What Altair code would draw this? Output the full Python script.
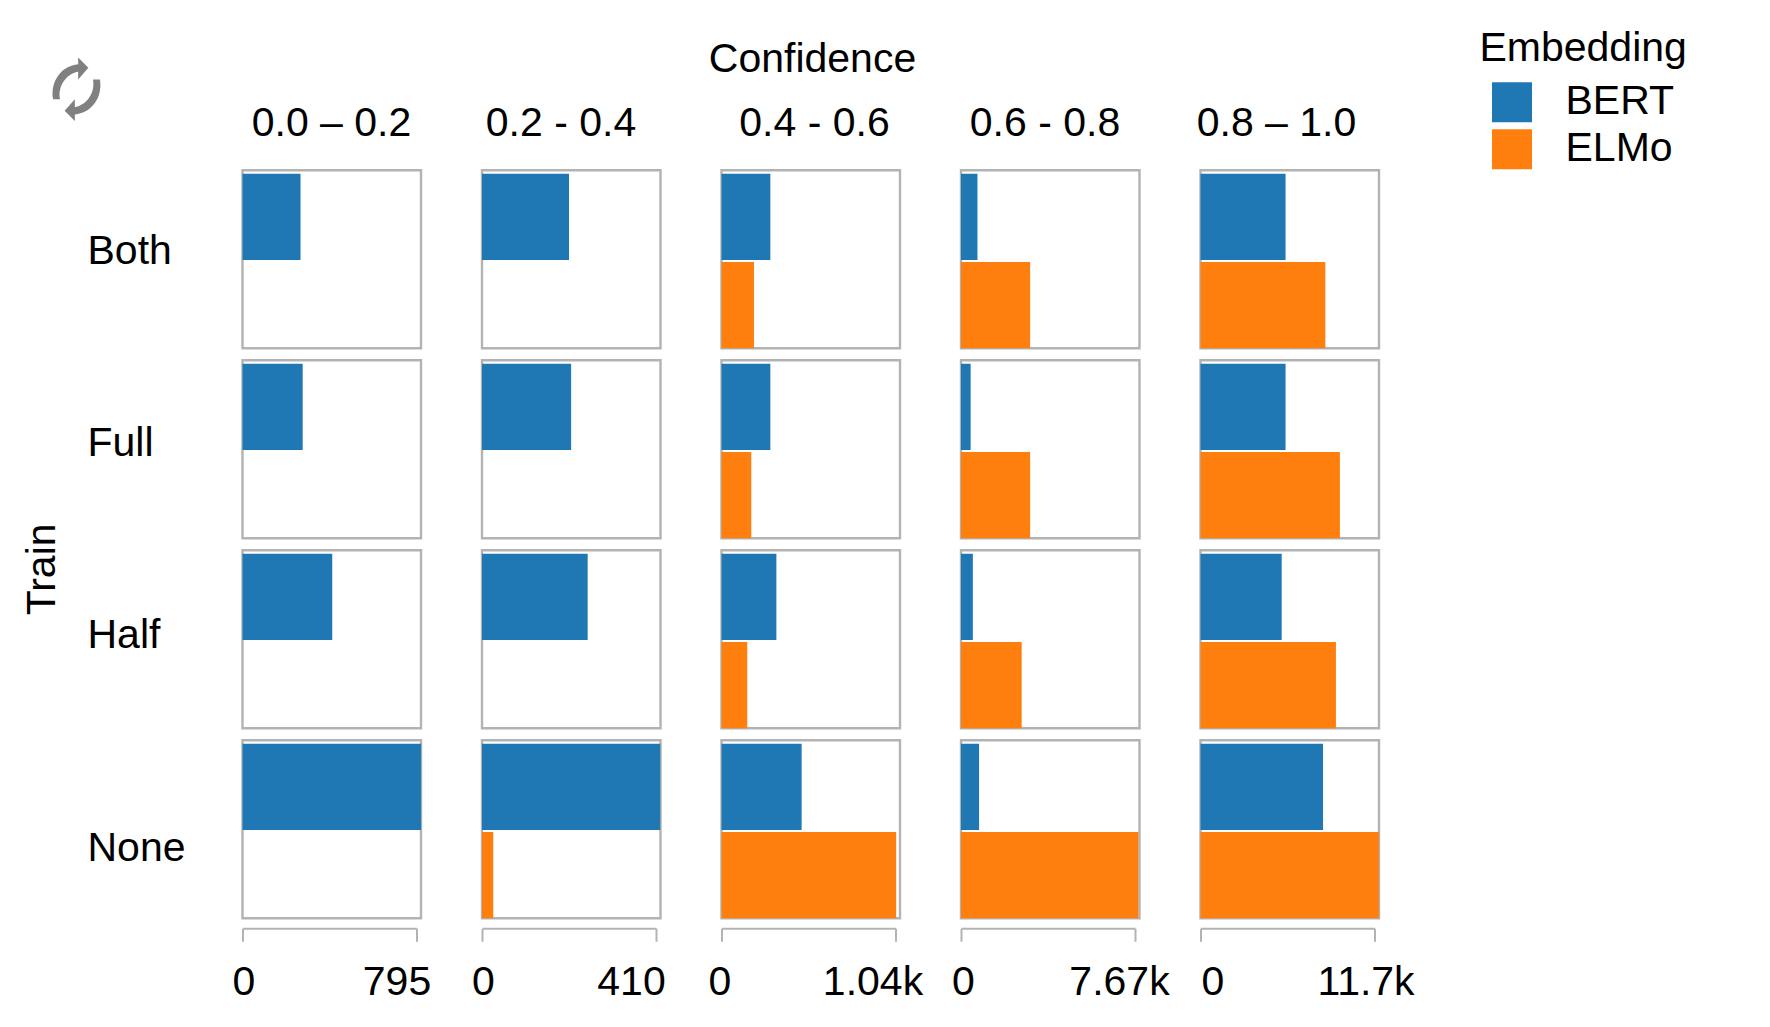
import altair as alt
import pandas as pd

FONT = "Liberation Sans"
FRAME = "#b3b3b3"

# Values, one list per confidence bin, in train order
train = ["Both", "Full", "Half", "None"]
bins = ["0.0 – 0.2", "0.2 - 0.4", "0.4 - 0.6", "0.6 - 0.8", "0.8 – 1.0"]
embeddings = ["BERT", "ELMo"]
colors = ["#1f77b4", "#ff7f0e"]

bert = [
    [265, 275, 410, 816],
    [205, 210, 249, 420],
    [292, 292, 328, 479],
    [726, 425, 522, 797],
    [5720, 5720, 5460, 8240],
]
elmo = [
    [None, None, None, None],
    [None, None, None, 26.5],
    [194, 178, 154, 1044],
    [3047, 3047, 2675, 7820],
    [8393, 9373, 9107, 12000],
]
axis_max = [795, 410, 1040, 7670, 11700]

# Hand placement of the labels in the original figure
title_dx = [0, -10, 4, -5, -13]
row_label_y = [82, 84, 86, 109]
zero_shift = [1, 1, -2, 2, 12]
max_shift = [-20, -25, -23, -16, -9]

# Sync icon in the top left corner
ICON = (
    "M-0.71 0.30 C-0.80 -0.25 -0.45 -0.72 0.05 -0.76 L0.05 -0.96 L0.36 -0.65 "
    "L0.05 -0.30 L0.05 -0.535 C-0.25 -0.50 -0.58 -0.15 -0.5 0.30 Z "
    "M0.71 -0.30 C0.80 0.25 0.45 0.72 -0.05 0.76 L-0.05 0.96 L-0.36 0.65 "
    "L-0.05 0.30 L-0.05 0.535 C0.25 0.50 0.58 0.15 0.5 -0.30 Z"
)


def text_layer(label, x, y, angle=0, align="left", baseline="middle"):
    return (
        alt.Chart({"values": [{}]})
        .mark_text(
            font=FONT, fontSize=41, align=align, baseline=baseline, angle=angle, color="black"
        )
        .encode(x=alt.value(x), y=alt.value(y), text=alt.value(label))
    )


def panel(c, r):
    # One small bar chart, a single confidence bin and a single train setting
    rows = [
        {"embedding": "BERT", "count": bert[c][r]},
        {"embedding": "ELMo", "count": elmo[c][r]},
    ]
    rows = pd.DataFrame([row for row in rows if row["count"] is not None])

    if r == len(train) - 1:
        x_axis = alt.Axis(
            title=None,
            values=[0, axis_max[c]],
            format=".3~s",
            grid=False,
            offset=10,
            tickSize=13,
            tickWidth=2,
            tickColor=FRAME,
            domainColor=FRAME,
            domainWidth=2,
            labelFont=FONT,
            labelFontSize=41,
            labelColor="black",
            labelPadding=21,
            labelOverlap=False,
            labelFlush=False,
            labelBound=False,
            labelOffset={
                "condition": {"test": "datum.value === 0", "value": zero_shift[c]},
                "value": max_shift[c],
            },
        )
    else:
        x_axis = None

    bars = (
        alt.Chart(rows)
        .mark_bar()
        .encode(
            alt.X("count:Q")
            .scale(domain=[0, axis_max[c]], range=[0, 174], clamp=False, nice=False)
            .axis(x_axis),
            alt.Y("embedding:N")
            .scale(domain=embeddings, paddingInner=0.023, paddingOuter=0.02, align=1)
            .axis(None),
            alt.Color("embedding:N")
            .scale(domain=embeddings, range=colors)
            .legend(
                alt.Legend(
                    title="Embedding",
                    orient="none",
                    legendX=1237,
                    legendY=-141.5,
                    titleFont=FONT,
                    titleFontSize=41,
                    titleFontWeight="normal",
                    titleColor="black",
                    titlePadding=12,
                    titleLimit=400,
                    labelFont=FONT,
                    labelFontSize=41,
                    labelColor="black",
                    labelOffset=33,
                    symbolType="square",
                    symbolSize=1600,
                    symbolStrokeWidth=0,
                    symbolOpacity=1,
                    symbolOffset=12,
                    rowPadding=5,
                )
            ),
        )
    )

    layers = [bars]
    if c == 0:
        layers.append(text_layer(train[r], -155, row_label_y[r]))
    if c == 0 and r == 0:
        layers.append(
            alt.Chart({"values": [{}]})
            .mark_point(shape=ICON, filled=True, color="#808080", opacity=1, size=4356)
            .encode(x=alt.value(-166), y=alt.value(-81))
        )
    if c == 0 and r == 2:
        layers.append(text_layer("Train", -200, 65, angle=270))
    if c == 2 and r == 0:
        layers.append(text_layer("Confidence", 91, -98, align="center", baseline="alphabetic"))
    if r == 0:
        layers.append(
            text_layer(bins[c], 89 + title_dx[c], -34, align="center", baseline="alphabetic")
        )

    return alt.layer(*layers).properties(width=178.5, height=178)


chart = (
    alt.concat(
        *[panel(c, r) for r in range(len(train)) for c in range(len(bins))],
        columns=len(bins),
        spacing={"row": 12, "column": 60.5},
        bounds="flush",
    )
    .configure_view(stroke=FRAME, strokeWidth=2.4)
    .properties(background="white", padding={"left": 11.5, "top": 20.3, "right": 5, "bottom": 5})
)

chart.save("out.html", embed_options={"renderer": "svg", "actions": False})
